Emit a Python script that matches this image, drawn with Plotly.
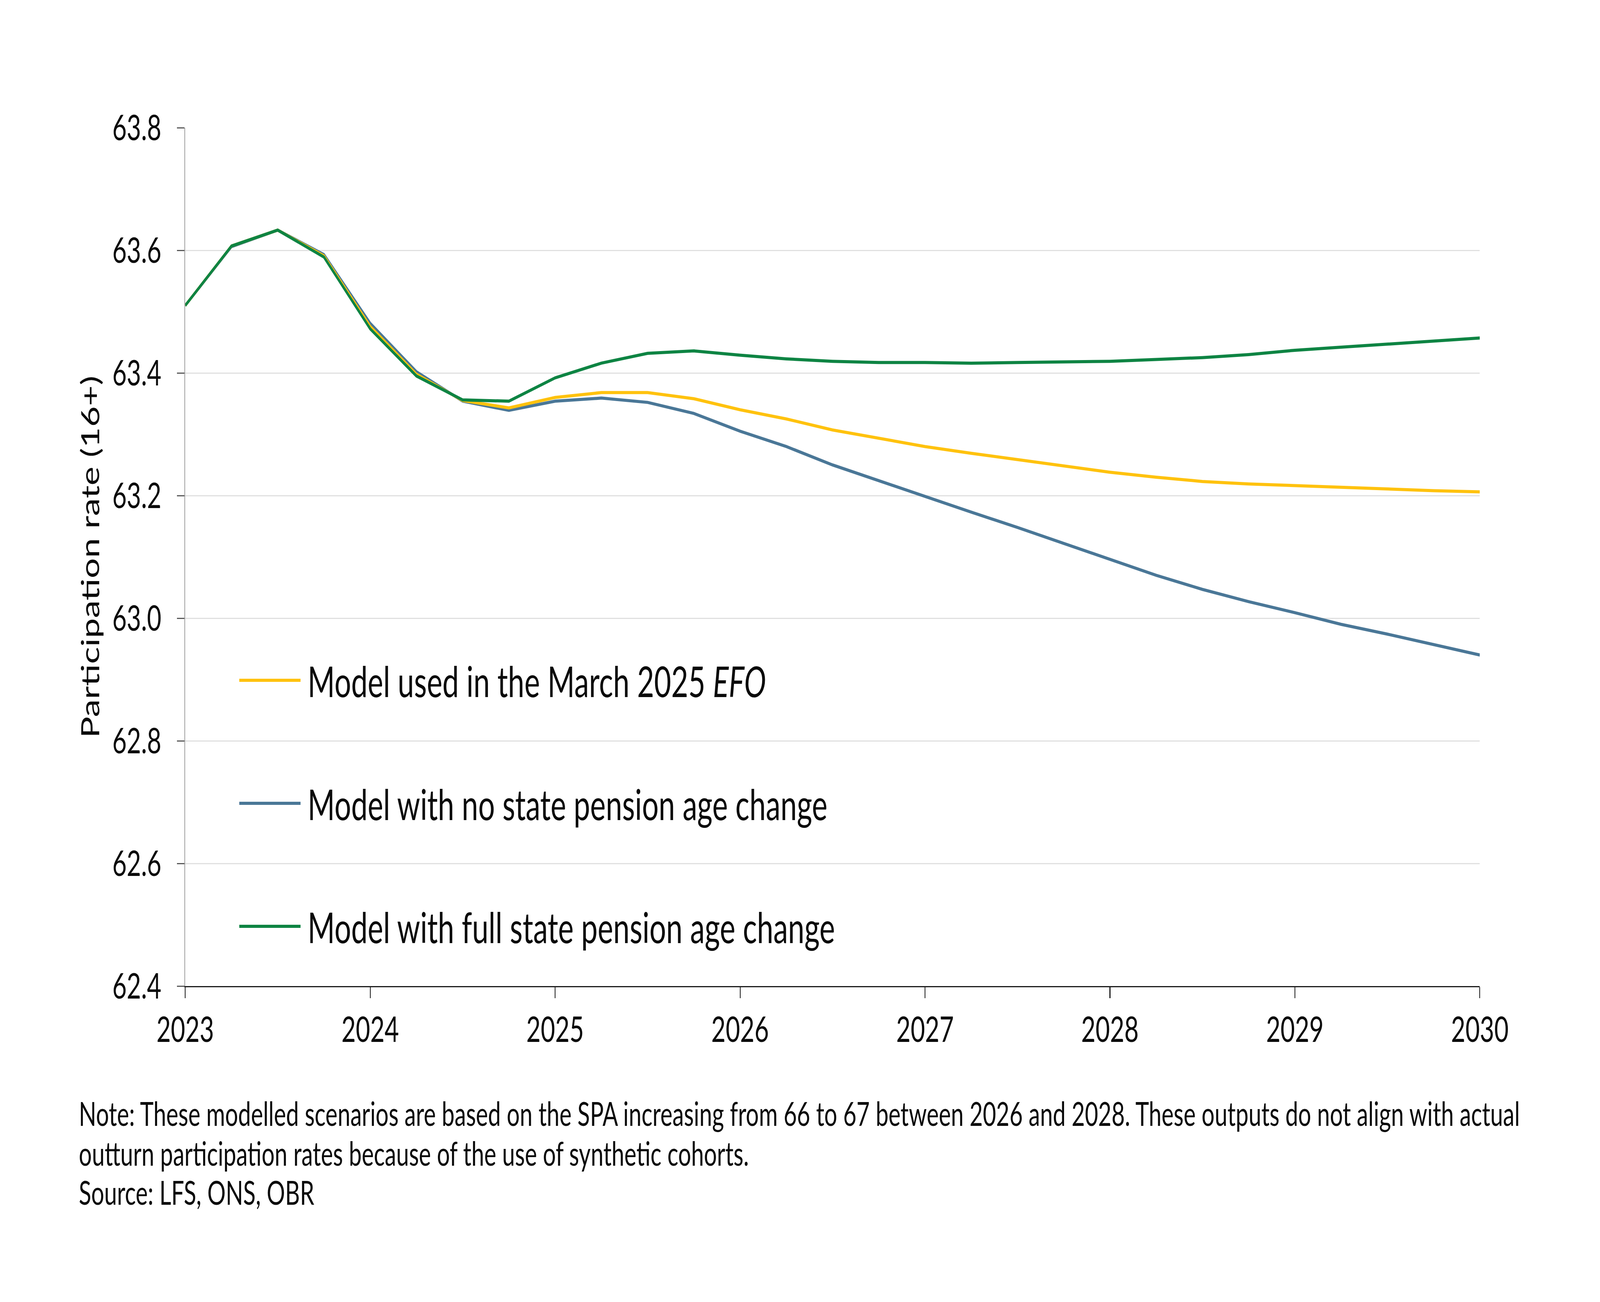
import plotly.graph_objects as go

# ---- data ----
quarters = [2023 + i * 0.25 for i in range(29)]

efo_march_2025 = [63.510, 63.607, 63.633, 63.591, 63.476, 63.398, 63.355, 63.343,
                  63.360, 63.368, 63.368, 63.358, 63.340, 63.325, 63.307, 63.293,
                  63.280, 63.269, 63.259, 63.248, 63.238, 63.230, 63.223, 63.219,
                  63.216, 63.213, 63.211, 63.208, 63.206]

no_spa_change = [63.510, 63.606, 63.633, 63.593, 63.481, 63.402, 63.354, 63.339,
                 63.354, 63.359, 63.352, 63.334, 63.305, 63.280, 63.250, 63.224,
                 63.198, 63.173, 63.148, 63.122, 63.096, 63.070, 63.047, 63.027,
                 63.009, 62.990, 62.974, 62.957, 62.940]

full_spa_change = [63.510, 63.607, 63.633, 63.589, 63.472, 63.395, 63.356, 63.354,
                   63.392, 63.416, 63.432, 63.436, 63.429, 63.423, 63.419, 63.417,
                   63.417, 63.416, 63.417, 63.418, 63.419, 63.422, 63.425, 63.430,
                   63.437, 63.442, 63.447, 63.452, 63.457]

series_names = ["Model used in the March 2025 <i>EFO</i>",
                "Model with no state pension age change",
                "Model with full state pension age change"]
series_colors = ["#FFC20E", "#4A7797", "#0E8443"]

x_ticks = [2023, 2024, 2025, 2026, 2027, 2028, 2029, 2030]
y_ticks = [62.4, 62.6, 62.8, 63.0, 63.2, 63.4, 63.6, 63.8]

note_lines = ["Note: These modelled scenarios are based on the SPA increasing from 66 to 67 between 2026 and 2028. "
              "These outputs do not align with actual",
              "outturn participation rates because of the use of synthetic cohorts.",
              "Source: LFS, ONS, OBR"]

FONT = "Lato"
W, H = 5925, 3334
ML, MR, MT, MB = 686, 445, 327, 809

fig = go.Figure()
# draw order: blue, yellow, green (green on top)
all_series = [efo_march_2025, no_spa_change, full_spa_change]
for idx in [1, 0, 2]:
    fig.add_trace(go.Scatter(x=quarters, y=all_series[idx], mode="lines",
                             line=dict(color=series_colors[idx], width=8),
                             name=series_names[idx], showlegend=False,
                             hoverinfo="skip"))

pw = W - ML - MR
ph = H - MT - MB

# manual legend
leg_y = [1742, 2057, 2372]
for i in range(3):
    yp = (H - MB - leg_y[i]) / ph
    fig.add_shape(type="line", xref="paper", yref="paper",
                  x0=(886 - ML) / pw, x1=(1113 - ML) / pw, y0=yp, y1=yp,
                  line=dict(color=series_colors[i], width=8))
    fig.add_annotation(xref="paper", yref="paper", x=(1137 - ML) / pw, y=yp,
                       xanchor="left", yanchor="middle", showarrow=False,
                       text=series_names[i],
                       font=dict(family=FONT, size=109, color="#0a0a0a"))

# y-axis title
fig.add_annotation(xref="paper", yref="paper", x=(332 - ML) / pw, y=0.5,
                   xanchor="center", yanchor="middle", showarrow=False,
                   textangle=-90, text="Participation rate (16+)",
                   font=dict(family=FONT, size=92, color="#0a0a0a"))

# note lines
note_y = [2850, 2952, 3052]
for line, ny in zip(note_lines, note_y):
    fig.add_annotation(xref="paper", yref="paper", x=(290 - ML) / pw, y=(H - MB - ny) / ph,
                       xanchor="left", yanchor="middle", showarrow=False, align="left",
                       text=line,
                       font=dict(family=FONT, size=85, color="#0a0a0a"))

fig.update_layout(
    width=W, height=H,
    margin=dict(l=ML, r=MR, t=MT, b=MB, pad=0),
    paper_bgcolor="white", plot_bgcolor="white",
    font=dict(family=FONT, color="#0a0a0a"),
    xaxis=dict(range=[2023, 2030], tickvals=x_ticks, ticktext=[str(v) for v in x_ticks],
               showgrid=False, zeroline=False,
               showline=True, linecolor="#1a1a1a", linewidth=3,
               ticks="outside", ticklen=28, tickwidth=3, tickcolor="#1a1a1a",
               tickfont=dict(family=FONT, size=92, color="#0a0a0a"),
               ticklabelstandoff=2),
    yaxis=dict(range=[62.4, 63.8], tickvals=y_ticks, ticktext=[f"{v:.1f}" for v in y_ticks],
               showgrid=True, gridcolor="#E0E0E0", gridwidth=3, zeroline=False,
               showline=True, linecolor="#A0A0A0", linewidth=3,
               ticks="outside", ticklen=27, tickwidth=3, tickcolor="#595959",
               tickfont=dict(family=FONT, size=92, color="#0a0a0a"),
               ticklabelstandoff=40),
)

# fit the W x H figure exactly into whatever viewport the page is opened in
post = """
var gd = document.getElementById('{plot_id}');
var W = %d, H = %d;
document.documentElement.style.margin = '0';
document.body.style.margin = '0';
document.documentElement.style.overflow = 'hidden';
document.body.style.overflow = 'hidden';
var vw = window.innerWidth, vh = window.innerHeight;
var sx = vw / W, sy = vh / H;
var wrap = gd.parentElement;
wrap.style.width = vw + 'px';
wrap.style.height = vh + 'px';
wrap.style.overflow = 'hidden';
wrap.style.margin = '0';
wrap.style.padding = '0';
document.body.style.height = vh + 'px';
document.documentElement.style.height = vh + 'px';
gd.style.transformOrigin = '0 0';
gd.style.transform = 'scale(' + sx + ',' + sy + ')';
""" % (W, H)

fig.write_html("out.html", config={"displayModeBar": False}, post_script=post)
